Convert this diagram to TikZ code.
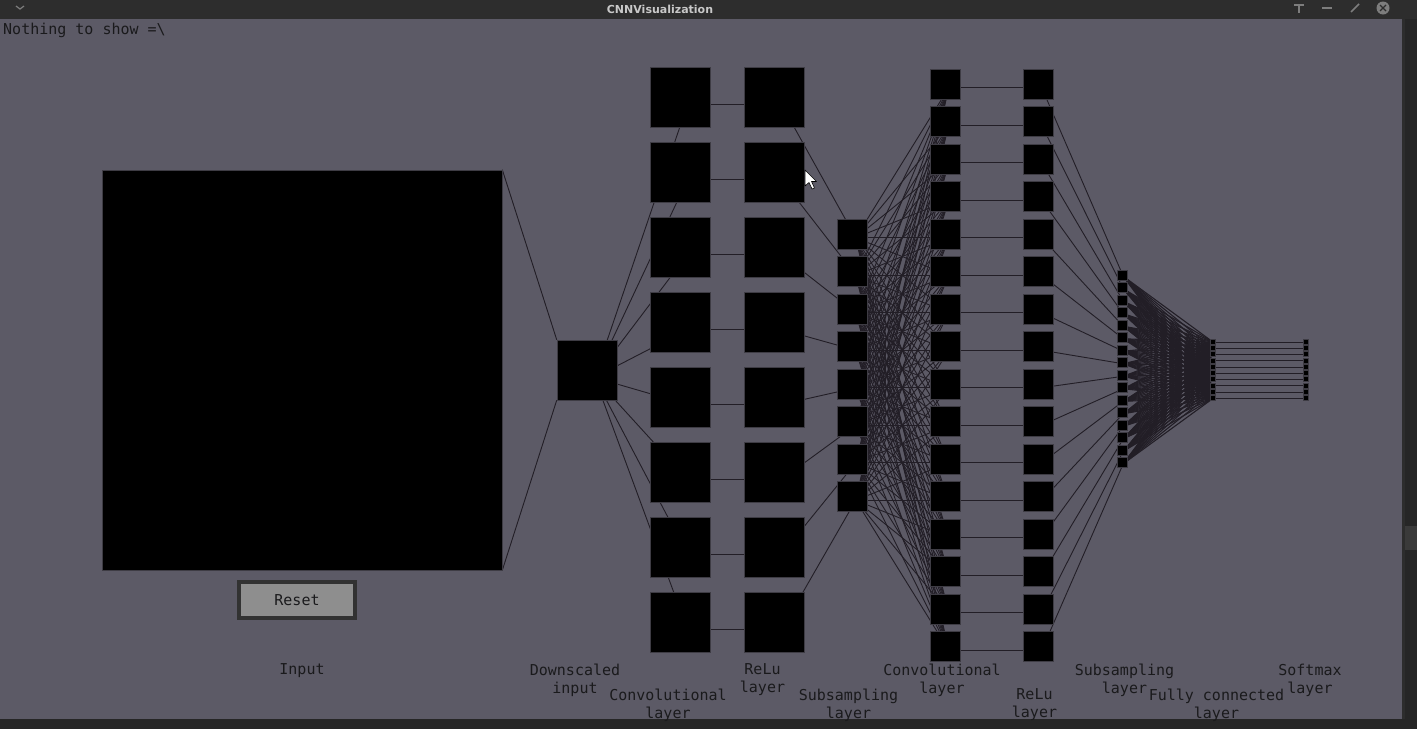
\documentclass[tikz,border=0pt]{standalone}
\usepackage{fontspec}
\setmonofont{DejaVu Sans Mono}
\newfontfamily\titlefont{DejaVu Sans}
\definecolor{winbg}{RGB}{92,90,102}
\definecolor{chrome}{RGB}{45,45,45}
\definecolor{edgedark}{RGB}{38,38,38}
\definecolor{thumb}{RGB}{58,58,58}
\definecolor{wire}{RGB}{34,30,38}
\definecolor{boxedge}{RGB}{62,60,68}
\definecolor{btnfill}{RGB}{142,142,142}
\definecolor{btnedge}{RGB}{50,50,50}
\definecolor{labeltext}{RGB}{26,26,28}
\definecolor{titletext}{RGB}{200,200,200}
\definecolor{icongray}{RGB}{125,125,125}
\pgfdeclarelayer{bg}
\pgfdeclarelayer{wires}
\pgfsetlayers{bg,wires,main}
\tikzset{
  fmap/.style={draw=boxedge, fill=black, line width=0.6pt, inner sep=0pt, minimum size=#1},
  wire/.style={draw=wire, line width=0.9pt},
  caption/.style={font=\ttfamily\fontsize{15}{18}\selectfont, text=labeltext, align=center, anchor=north, inner sep=0pt},
}
\begin{document}
\begin{tikzpicture}[x=1pt, y=-1pt]
            \useasboundingbox (0,0) rectangle (1417,729);

            % window
            \begin{pgfonlayer}{bg}
            \fill[edgedark] (0,0) rectangle (1417,729);
            \fill[chrome] (0,0) rectangle (1417,19);
            \fill[winbg] (0,19) rectangle (1402,719);
            \fill[chrome] (1402,19) rectangle (1405,719);
            \fill[thumb] (1405,526) rectangle (1417,550);
            \end{pgfonlayer}

            % title bar
            \node[font=\titlefont\bfseries\fontsize{11}{13}\selectfont, text=titletext] (title) at (660,9) {CNNVisualization};
            \draw[icongray, line width=1.2pt] (16,6) -- (20,9) -- (24,6);
            \draw[icongray, line width=1.5pt] (1294,5) -- (1304,5);
            \draw[icongray, line width=1.5pt] (1299,5) -- (1299,13);
            \draw[icongray, line width=1.5pt] (1322,8) -- (1332,8);
            \draw[icongray, line width=1.5pt] (1351,12) -- (1359,4);
            \fill[icongray] (1383,8) circle (6.5);
            \draw[chrome, line width=1.3pt] (1380,5) -- (1386,11) (1386,5) -- (1380,11);

            % status text
            \node[font=\ttfamily\fontsize{15}{18}\selectfont, text=labeltext, anchor=base west, inner sep=0pt] (status) at (3,34) {Nothing to show =\textbackslash};

            % input and downscaled input
            \node[fmap=400pt] (input) at (302,370) {};
            \node[fmap=60pt] (down) at (587,370) {};

            % first convolutional, relu and subsampling layers
            \foreach \i [evaluate=\i as \y using 97+75*(\i-1), evaluate=\i as \s using 234+37.5*(\i-1)] in {1,...,8} {
              \node[fmap=60pt] (conva\i) at (680,\y) {};
              \node[fmap=60pt] (relua\i) at (774,\y) {};
              \node[fmap=30pt] (suba\i) at (852,\s) {};
            }

            % second convolutional, relu and subsampling layers
            \foreach \i [evaluate=\i as \y using 84+37.5*(\i-1), evaluate=\i as \s using 275+12.5*(\i-1)] in {1,...,16} {
              \node[fmap=30pt] (convb\i) at (945,\y) {};
              \node[fmap=30pt] (relub\i) at (1038,\y) {};
              \node[fmap=10pt] (subb\i) at (1122,\s) {};
            }

            % fully connected and softmax layers
            \foreach \i [evaluate=\i as \y using 341.5+6.25*(\i-1)] in {1,...,10} {
              \node[fmap=5pt, line width=0.3pt] (full\i) at (1212.5,\y) {};
              \node[fmap=5pt, line width=0.3pt] (soft\i) at (1305.5,\y) {};
            }

            % connections
            \begin{pgfonlayer}{wires}
            \draw[wire] (input.north east) -- (down.north west);
            \draw[wire] (input.south east) -- (down.south west);
            \foreach \i in {1,...,8} {
              \draw[wire] ([shift={(7.5,7.5)}]down.center) -- ([shift={(7.5,7.5)}]conva\i.center);
              \draw[wire] ([shift={(7.5,7.5)}]conva\i.center) -- ([shift={(7.5,7.5)}]relua\i.center);
              \draw[wire] ([shift={(7.5,7.5)}]relua\i.center) -- ([shift={(3.75,3.75)}]suba\i.center);
            }
            \foreach \i in {1,...,8}
              \foreach \j in {1,...,16}
                \draw[wire] ([shift={(3.75,3.75)}]suba\i.center) -- ([shift={(3.75,3.75)}]convb\j.center);
            \foreach \i in {1,...,16} {
              \draw[wire] ([shift={(3.75,3.75)}]convb\i.center) -- ([shift={(3.75,3.75)}]relub\i.center);
              \draw[wire] ([shift={(3.75,3.75)}]relub\i.center) -- ([shift={(1.25,1.25)}]subb\i.center);
            }
            \foreach \i in {1,...,16}
              \foreach \j in {1,...,10}
                \draw[wire, line width=1.1pt] ([shift={(1.25,1.25)}]subb\i.center) -- ([shift={(0.6,0.6)}]full\j.center);
            \foreach \i in {1,...,10}
              \draw[wire] ([shift={(0.6,0.6)}]full\i.center) -- ([shift={(0.6,0.6)}]soft\i.center);
            \end{pgfonlayer}

            % reset button
            \node[draw=btnedge, line width=4pt, fill=btnfill, inner sep=0pt, minimum width=116pt, minimum height=36pt,
                  font=\ttfamily\fontsize{15}{18}\selectfont, text=labeltext] (reset) at (297,600) {Reset};

            % layer captions
            \node[caption] (capinput) at (302,663.6) {Input};
            \node[caption] (capdown) at (575,663.6) {Downscaled\\input};
            \node[caption] (capconva) at (668,688.6) {Convolutional\\layer};
            \node[caption] (caprelua) at (762.5,663.6) {ReLu\\layer};
            \node[caption] (capsuba) at (848.5,688.6) {Subsampling\\layer};
            \node[caption] (capconvb) at (942,663.6) {Convolutional\\layer};
            \node[caption] (caprelub) at (1034.5,688.6) {ReLu\\layer};
            \node[caption] (capsubb) at (1124.5,663.6) {Subsampling\\layer};
            \node[caption] (capfull) at (1216.5,688.6) {Fully connected\\layer};
            \node[caption] (capsoft) at (1310,663.6) {Softmax\\layer};

            % mouse pointer
            \draw[black, fill=white, line width=0.6pt, line join=round] (805,170) -- (805,186) -- (809,182.5) -- (812,189) -- (814.5,188) -- (811.5,181.5) -- (816.5,181.5) -- cycle;
        \end{tikzpicture}
\end{document}
